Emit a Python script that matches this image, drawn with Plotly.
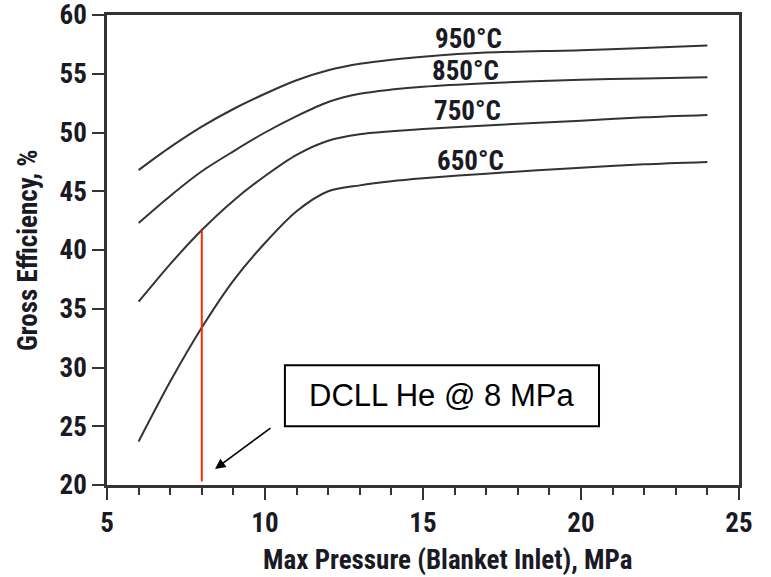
import plotly.graph_objects as go

# ---- data ----
pressure = [6, 7, 8, 9, 10, 11, 12, 13, 14, 15, 17, 20, 22, 24]
eff_950 = [46.8, 48.75, 50.5, 52.0, 53.3, 54.45, 55.3, 55.85, 56.2, 56.45, 56.8, 57.0, 57.2, 57.4]
eff_850 = [42.3, 44.6, 46.7, 48.4, 50.0, 51.4, 52.6, 53.3, 53.65, 53.9, 54.2, 54.5, 54.6, 54.7]
eff_750 = [35.6, 38.8, 41.7, 44.2, 46.3, 48.1, 49.3, 49.85, 50.1, 50.3, 50.6, 51.0, 51.3, 51.5]
eff_650 = [23.7, 28.8, 33.4, 37.4, 40.6, 43.3, 45.0, 45.5, 45.85, 46.1, 46.5, 47.0, 47.3, 47.5]

series_names = ["950°C", "850°C", "750°C", "650°C"]
series_values = [eff_950, eff_850, eff_750, eff_650]
label_x = [16.45, 16.36, 16.4, 16.5]
label_y = [58.0, 55.2, 51.8, 47.6]

design_pressure = 8
design_line_y = [20.3, 41.7]
box_text = "DCLL He @ 8 MPa"
box_x = [10.63, 20.57]
box_y = [25.0, 30.2]
arrow_tail = (10.22, 24.94)
arrow_tip = (8.42, 21.36)

x_ticks = [5, 10, 15, 20, 25]
y_ticks = [20, 25, 30, 35, 40, 45, 50, 55, 60]

NARROW = "Roboto Condensed, Open Sans Condensed, Liberation Sans Narrow, sans-serif"
INK = "#1a1a24"
FSIZE = 27

fig = go.Figure()
for name, vals in zip(series_names, series_values):
    fig.add_trace(go.Scatter(x=pressure, y=vals, mode="lines", name=name,
                             line=dict(color="#333333", width=2, shape="spline", smoothing=0.8),
                             showlegend=False))

fig.add_trace(go.Scatter(x=[design_pressure, design_pressure], y=design_line_y, mode="lines",
                         line=dict(color="#ff2a00", width=2), showlegend=False))

for name, lx, ly in zip(series_names, label_x, label_y):
    fig.add_annotation(x=lx, y=ly, text=name, showarrow=False, xref="x", yref="y",
                       font=dict(family=NARROW, size=FSIZE, color=INK, weight="bold"))

fig.add_shape(type="rect", xref="x", yref="y", x0=box_x[0], x1=box_x[1], y0=box_y[0], y1=box_y[1],
              line=dict(color="black", width=2), fillcolor="white", layer="above")
fig.add_annotation(x=(box_x[0] + box_x[1]) / 2, y=(box_y[0] + box_y[1]) / 2, text=box_text,
                   showarrow=False, xref="x", yref="y",
                   font=dict(family="Liberation Sans, Arial, sans-serif", size=31, color="black"))

fig.add_annotation(x=arrow_tip[0], y=arrow_tip[1], ax=arrow_tail[0], ay=arrow_tail[1],
                   xref="x", yref="y", axref="x", ayref="y", text="", showarrow=True,
                   arrowhead=2, arrowsize=1.3, arrowwidth=1.6, arrowcolor="black")

# axis titles
fig.add_annotation(x=0.54, y=-0.16, xref="paper", yref="paper", text="Max Pressure (Blanket Inlet), MPa",
                   showarrow=False, xanchor="center", yanchor="middle",
                   font=dict(family=NARROW, size=FSIZE, color=INK, weight="bold"))
fig.add_annotation(x=-0.125, y=0.5, xref="paper", yref="paper", text="Gross Efficiency, %",
                   showarrow=False, textangle=-90, xanchor="center", yanchor="middle",
                   font=dict(family=NARROW, size=FSIZE, color=INK, weight="bold"))

axis_common = dict(showgrid=False, zeroline=False, showline=True, linecolor="#333333", linewidth=2.5,
                   mirror=True, ticks="outside", tickcolor="#333333", tickwidth=2, ticklen=12,
                   automargin=False, ticklabeloverflow="allow",
                   tickfont=dict(family=NARROW, size=FSIZE, color=INK, weight="bold"))

fig.update_xaxes(range=[5, 25], tickvals=x_ticks, ticktext=[str(v) for v in x_ticks],
                 minor=dict(dtick=1, ticks="outside", ticklen=7, tickwidth=2, tickcolor="#333333"),
                 **axis_common)
fig.update_yaxes(range=[20, 60], tickvals=y_ticks, ticktext=[str(v) for v in y_ticks], **axis_common)

fig.update_layout(width=771, height=577, margin=dict(l=107, r=32, t=15, b=92),
                  plot_bgcolor="white", paper_bgcolor="white")

fig.write_html("out.html", config={"displayModeBar": False},
               post_script="document.body.style.margin='0';")
